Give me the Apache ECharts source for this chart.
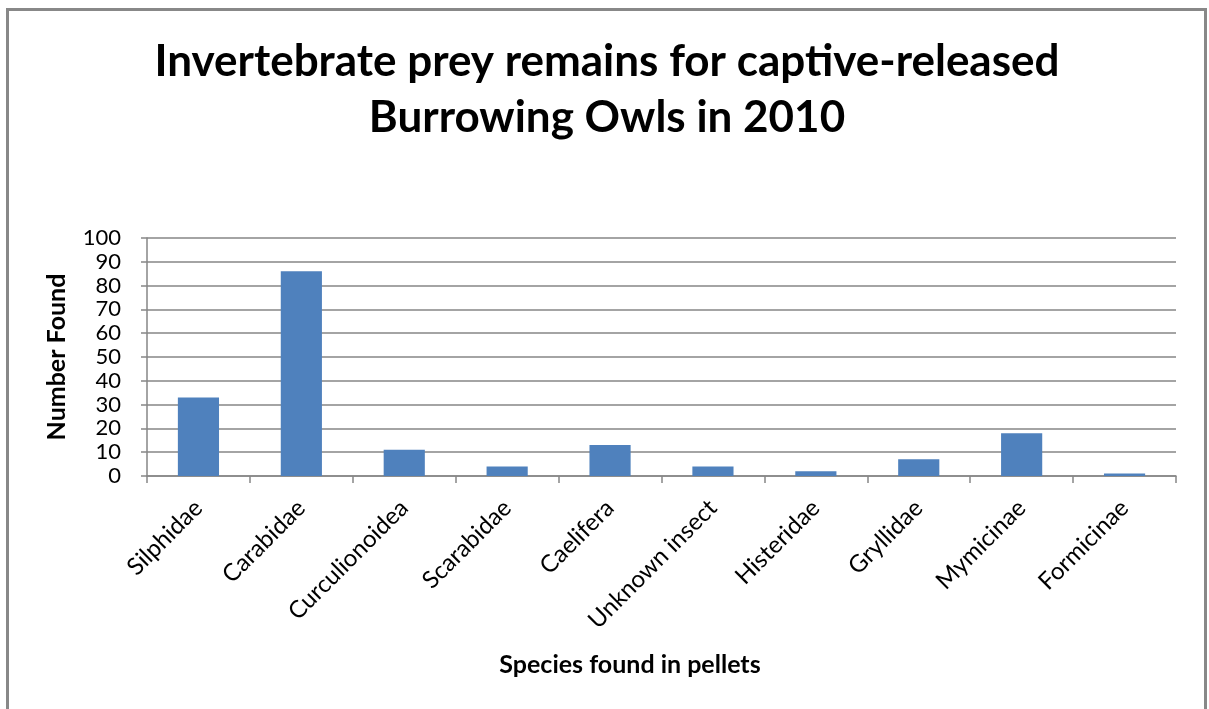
<!DOCTYPE html>
<html>
<head>
<meta charset="utf-8">
<script src="https://cdn.jsdelivr.net/npm/echarts@6/dist/echarts.min.js"></script>
<style>
  html, body { margin: 0; padding: 0; background: #fff; }
  #chart { width: 1209px; height: 709px; }
</style>
</head>
<body>
<div id="chart"></div>
<script>
// Invertebrate prey counts from pellet analysis
const categories = ['Silphidae', 'Carabidae', 'Curculionoidea', 'Scarabidae', 'Caelifera',
  'Unknown insect', 'Histeridae', 'Gryllidae', 'Mymicinae', 'Formicinae'];
const numberFound = [33, 86, 11, 4, 13, 4, 2, 7, 18, 1];
const yTicks = { min: 0, max: 100, interval: 10 };

const FONT = 'Lato, "Open Sans", sans-serif';
const GRAY = '#868686';

const chart = echarts.init(document.getElementById('chart'), null, { renderer: 'canvas' });
chart.setOption({
  backgroundColor: '#ffffff',
  animation: false,
  grid: { left: 147, right: 33, top: 238, bottom: 233, containLabel: false },
  xAxis: {
    type: 'category',
    data: categories,
    boundaryGap: true,
    axisLine: { show: true, lineStyle: { color: GRAY, width: 1.5 } },
    axisTick: { show: true, alignWithLabel: false, length: 7, lineStyle: { color: GRAY, width: 1.5 } },
    axisLabel: { rotate: 45, margin: 28, fontFamily: FONT, fontSize: 24, color: '#000', interval: 0 }
  },
  yAxis: {
    type: 'value',
    min: yTicks.min,
    max: yTicks.max,
    interval: yTicks.interval,
    axisLine: { show: true, lineStyle: { color: GRAY, width: 1.5 } },
    axisTick: { show: true, inside: false, length: 6, lineStyle: { color: GRAY, width: 1.5 } },
    axisLabel: { margin: 26, fontFamily: FONT, fontSize: 22, color: '#000' },
    splitLine: { show: true, lineStyle: { color: GRAY, width: 1.5 } }
  },
  series: [{
    type: 'bar',
    data: numberFound,
    barWidth: '40%',
    itemStyle: { color: '#4F81BD' }
  }],
  graphic: [
    {
      type: 'rect',
      shape: { x: 7.5, y: 9.5, width: 1198, height: 730 },
      style: { fill: 'none', stroke: '#888888', lineWidth: 3 },
      silent: true
    },
    {
      type: 'text',
      x: 607, y: 62,
      style: {
        text: 'Invertebrate prey remains for captive-released', fontFamily: FONT, fontWeight: 'bold',
        fontSize: 44, fill: '#000', align: 'center', verticalAlign: 'middle'
      }
    },
    {
      type: 'text',
      x: 607, y: 118,
      style: {
        text: 'Burrowing Owls in 2010', fontFamily: FONT, fontWeight: 'bold',
        fontSize: 44, fill: '#000', align: 'center', verticalAlign: 'middle'
      }
    },
    {
      type: 'text',
      x: 57, y: 357,
      rotation: Math.PI / 2,
      style: {
        text: 'Number Found', fontFamily: FONT, fontWeight: 'bold', fontSize: 25,
        fill: '#000', align: 'center', verticalAlign: 'middle'
      }
    },
    {
      type: 'text',
      x: 630, y: 665,
      style: {
        text: 'Species found in pellets', fontFamily: FONT, fontWeight: 'bold', fontSize: 25,
        fill: '#000', align: 'center', verticalAlign: 'middle'
      }
    }
  ]
});
</script>
</body>
</html>
